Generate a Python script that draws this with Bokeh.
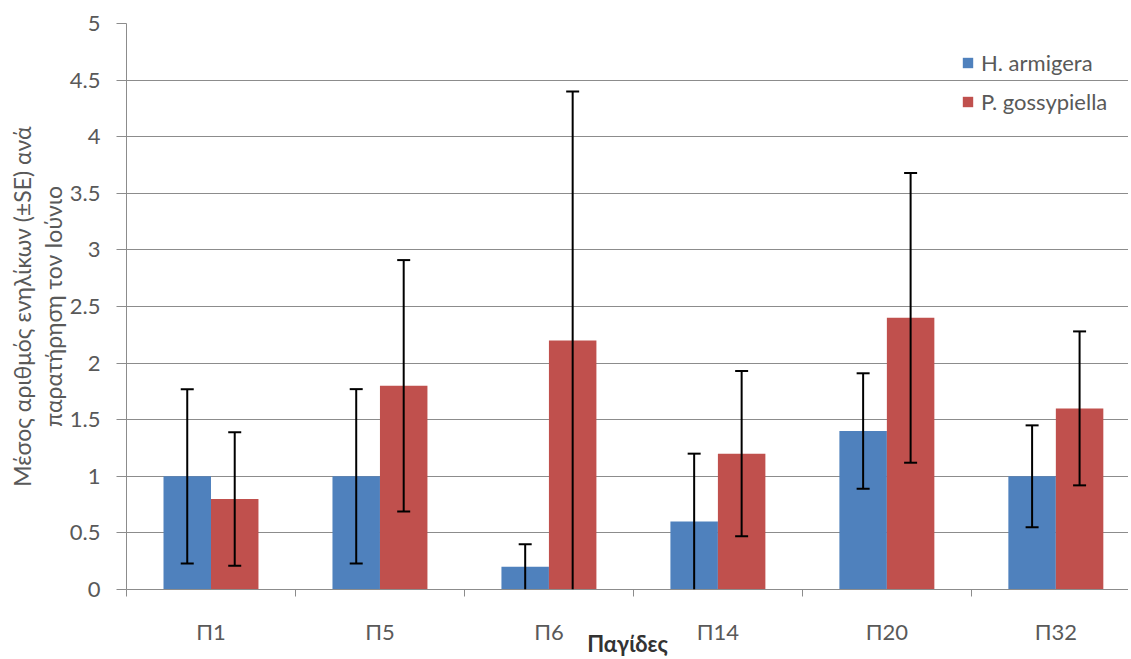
import numpy as np
from bokeh.plotting import figure
from bokeh.models import (ColumnDataSource, Whisker, TeeHead, FixedTicker, Title,
                          Legend, LegendItem, Range1d)
from bokeh.embed import file_html
from bokeh.resources import INLINE

# ---- data ----
categories = ["Π1", "Π5", "Π6", "Π14", "Π20", "Π32"]
series_names = ["H. armigera", "P. gossypiella"]
armigera = [1.0, 1.0, 0.2, 0.6, 1.4, 1.0]
armigera_se = [0.77, 0.77, 0.2, 0.6, 0.51, 0.45]
gossypiella = [0.8, 1.8, 2.2, 1.2, 2.4, 1.6]
gossypiella_se = [0.59, 1.11, 2.2, 0.73, 1.28, 0.68]
y_ticks = [0, 0.5, 1, 1.5, 2, 2.5, 3, 3.5, 4, 4.5, 5]
y_tick_labels = ["0", "0.5", "1", "1.5", "2", "2.5", "3", "3.5", "4", "4.5", "5"]
x_title = "Παγίδες"
y_title_lines = ["Μέσος αριθμός ενηλίκων (±SE) ανά", "παρατήρηση τον Ιούνιο"]

BLUE = "#4F81BD"
RED = "#C0504D"
GRAY_TXT = "#595959"
GRAY_LINE = "#8C8C8C"
FONT = "Lato"
FS = "22px"

W, H = 1128, 659
BAR_W = 0.281

centers = np.arange(1, len(categories) + 1)
boundaries = list(np.arange(0.5, len(categories) + 1.0, 1.0))

p = figure(width=W, height=H, output_backend="svg", toolbar_location=None,
           x_range=Range1d(0.5, 6.43), y_range=Range1d(0, 5),
           min_border_left=126, min_border_right=0, min_border_top=23,
           min_border_bottom=70)
p.outline_line_color = None
p.background_fill_color = "white"

# bars
a, ase = np.array(armigera), np.array(armigera_se)
g, gse = np.array(gossypiella), np.array(gossypiella_se)
ra = p.vbar(x=centers - BAR_W / 2, top=a, width=BAR_W, fill_color=BLUE, line_color=None)
rg = p.vbar(x=centers + BAR_W / 2, top=g, width=BAR_W, fill_color=RED, line_color=None)

# error bars: full tee where the lower end is above 0, no lower cap where it reaches the axis
xs = np.concatenate([centers - BAR_W / 2, centers + BAR_W / 2])
tops = np.concatenate([a, g])
ses = np.concatenate([ase, gse])
upper = tops + ses
lower = np.maximum(tops - ses, 0)
above = lower > 0.01
for mask, with_lower in ((above, True), (~above, False)):
    s = ColumnDataSource(dict(x=xs[mask], upper=upper[mask], lower=lower[mask]))
    w = Whisker(base="x", upper="upper", lower="lower", source=s, level="overlay",
                line_color="black", line_width=2,
                upper_head=TeeHead(size=13, line_color="black", line_width=2),
                lower_head=(TeeHead(size=13, line_color="black", line_width=2)
                            if with_lower else None))
    p.add_layout(w)

# grid & axes
p.xgrid.grid_line_color = None
p.ygrid.grid_line_color = GRAY_LINE
p.ygrid.grid_line_width = 1
p.ygrid.ticker = FixedTicker(ticks=y_ticks)

p.yaxis.ticker = FixedTicker(ticks=y_ticks)
p.yaxis.major_label_overrides = {t: l for t, l in zip(y_ticks, y_tick_labels)}
p.yaxis.axis_line_color = GRAY_LINE
p.yaxis.major_tick_line_color = GRAY_LINE
p.yaxis.major_tick_out = 10
p.yaxis.major_tick_in = 0
p.yaxis.minor_tick_line_color = None
p.yaxis.major_label_text_font = FONT
p.yaxis.major_label_text_font_size = FS
p.yaxis.major_label_text_color = GRAY_TXT
p.yaxis.major_label_standoff = 16

p.xaxis.ticker = FixedTicker(ticks=list(centers), minor_ticks=boundaries)
p.xaxis.major_label_overrides = {int(c): l for c, l in zip(centers, categories)}
p.xaxis.axis_line_color = GRAY_LINE
p.xaxis.major_tick_line_color = None
p.xaxis.major_tick_out = 0
p.xaxis.major_tick_in = 0
p.xaxis.minor_tick_line_color = GRAY_LINE
p.xaxis.minor_tick_out = 7
p.xaxis.minor_tick_in = 0
p.xaxis.major_label_text_font = FONT
p.xaxis.major_label_text_font_size = FS
p.xaxis.major_label_text_color = GRAY_TXT
p.xaxis.major_label_standoff = 21
p.xaxis.axis_label = x_title
p.xaxis.axis_label_text_font = FONT
p.xaxis.axis_label_text_font_size = FS
p.xaxis.axis_label_text_font_style = "bold"
p.xaxis.axis_label_text_color = "#333333"
p.xaxis.axis_label_standoff = -18

# y title, two lines (inner line added first)
t2 = Title(text=y_title_lines[1], align="center", offset=63, standoff=0,
           text_font=FONT, text_font_size="23px", text_font_style="normal",
           text_color=GRAY_TXT)
t1 = Title(text=y_title_lines[0], align="center", offset=63, standoff=2,
           text_font=FONT, text_font_size="23px", text_font_style="normal",
           text_color=GRAY_TXT)
p.add_layout(t2, "left")
p.add_layout(t1, "left")

legend = Legend(items=[LegendItem(label=series_names[0], renderers=[ra]),
                       LegendItem(label=series_names[1], renderers=[rg])],
                location=(835, 474), orientation="vertical")
legend.background_fill_alpha = 0
legend.border_line_color = None
legend.padding = 0
legend.margin = 0
legend.glyph_width = 13
legend.glyph_height = 13
legend.label_standoff = 7
legend.label_height = 20
legend.spacing = 12
legend.label_text_font = FONT
legend.label_text_font_size = FS
legend.label_text_color = GRAY_TXT
p.add_layout(legend)

open("out.html", "w").write(file_html(p, INLINE))
